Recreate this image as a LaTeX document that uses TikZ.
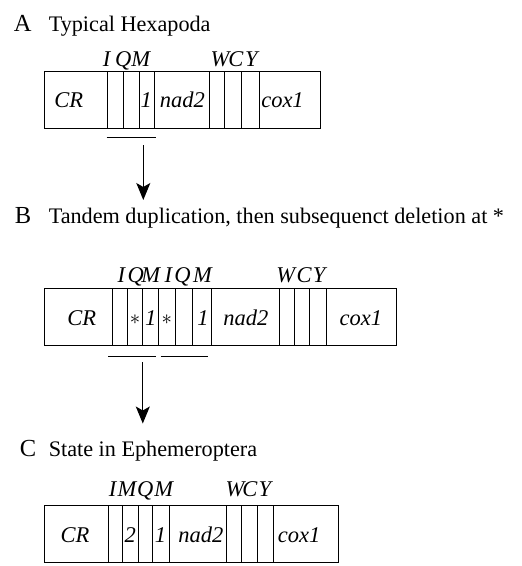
\documentclass[tikz,border=0pt]{standalone}
\usepackage{fontspec}
\setmainfont{Liberation Serif}
\usetikzlibrary{arrows.meta}
\begin{document}
\begin{tikzpicture}[x=1pt,y=-1pt,line width=0.9pt,
  paneltag/.style={anchor=base west,inner sep=0pt,font=\fontsize{24.5}{28}\selectfont},
  heading/.style={anchor=base west,inner sep=0pt,font=\fontsize{22.2}{26}\selectfont},
  trna/.style={anchor=base,inner sep=0pt,font=\itshape\fontsize{22.5}{26}\selectfont},
  gene/.style={anchor=base,inner sep=0pt,font=\itshape\fontsize{22.5}{26}\selectfont},
  star/.style={inner sep=0pt,font=\fontsize{21}{24}\selectfont},
  region/.style={line width=1pt},
  flow/.style={-{Stealth[length=17pt,width=14pt,inset=4pt]},line width=1.1pt}]
\useasboundingbox (0,0) rectangle (522,566);

% ---------- A ----------
\node[paneltag] (tA) at (13.5,31.7) {A};
\node[heading] (hA) at (48.3,31.7) {Typical Hexapoda};
\draw (44,71) rectangle (320.7,128.3);
\foreach \x in {107,123,139,154.3,209,224.3,241.7,259.3}
  \draw (\x,71) -- (\x,128.3);
\node[gene] (crA) at (68.8,107) {CR};
\node[gene] (oneA) at (146.3,107) {1};
\node[gene] (nadA) at (182.3,107) {nad2};
\node[gene] (coxA) at (282.5,107) {cox1};
\node[trna] (iA) at (106.7,66.5) {I};
\node[trna] (qA) at (123.3,66.5) {Q};
\node[trna] (mA) at (140.7,66.5) {M};
\node[trna] (wA) at (220,66.5) {W};
\node[trna] (cA) at (235.8,66.5) {C};
\node[trna] (yA) at (251.5,66.5) {Y};
\coordinate (uA1) at (106.7,137.7);
\coordinate (uA2) at (155.7,137.7);
\draw[region] (uA1) -- (uA2);
\coordinate (arA1) at (143.3,145);
\coordinate (arA2) at (143.3,200);
\draw[flow] (arA1) -- (arA2);

% ---------- B ----------
\node[paneltag] (tB) at (14.5,223) {B};
\node[heading] (hB) at (48.3,223) {Tandem duplication, then subsequenct deletion at *};
\draw (44,288) rectangle (396,345);
\foreach \x in {112.7,127.7,142.5,158.3,175.3,192.7,211.7,279.3,294.3,309.3,326}
  \draw (\x,288) -- (\x,345);
\node[gene] (crB) at (81.7,325) {CR};
\node[star] (sB1) at (135,319.5) {$\ast$};
\node[gene] (oneB1) at (150.8,325) {1};
\node[star] (sB2) at (166.7,319.5) {$\ast$};
\node[gene] (oneB2) at (203,325) {1};
\node[gene] (nadB) at (245.8,325) {nad2};
\node[gene] (coxB) at (360.8,325) {cox1};
\node[trna] (iB1) at (121.3,282.3) {I};
\node[trna] (qB1) at (135.8,282.3) {Q};
\node[trna] (mB1) at (150.8,282.3) {M};
\node[trna] (iB2) at (168.3,282.3) {I};
\node[trna] (qB2) at (182.5,282.3) {Q};
\node[trna] (mB2) at (202.5,282.3) {M};
\node[trna] (wB) at (285.8,282.3) {W};
\node[trna] (cB) at (304.2,282.3) {C};
\node[trna] (yB) at (319.2,282.3) {Y};
\coordinate (uB1) at (108.3,356.7);
\coordinate (uB2) at (156,356.7);
\coordinate (uB3) at (160.7,356.7);
\coordinate (uB4) at (208.3,356.7);
\draw[region] (uB1) -- (uB2);
\draw[region] (uB3) -- (uB4);
\coordinate (arB1) at (142.8,362);
\coordinate (arB2) at (142.8,423.5);
\draw[flow] (arB1) -- (arB2);

% ---------- C ----------
\node[paneltag] (tC) at (19.5,456.7) {C};
\node[heading] (hC) at (48.3,456.7) {State in Ephemeroptera};
\draw (44,505.5) rectangle (338.3,562.5);
\foreach \x in {108.3,122.7,138.3,152.3,169.3,226.7,241,257.5,273.3}
  \draw (\x,505.5) -- (\x,562.5);
\node[gene] (crC) at (75,542.5) {CR};
\node[gene] (twoC) at (130.3,542.5) {2};
\node[gene] (oneC) at (160.5,542.5) {1};
\node[gene] (nadC) at (200.8,542.5) {nad2};
\node[gene] (coxC) at (299.2,542.5) {cox1};
\node[trna] (iC) at (112.5,496.7) {I};
\node[trna] (mC1) at (127,496.7) {M};
\node[trna] (qC) at (145.3,496.7) {Q};
\node[trna] (mC2) at (163.7,496.7) {M};
\node[trna] (wC) at (235,496.7) {W};
\node[trna] (cC) at (250,496.7) {C};
\node[trna] (yC) at (265,496.7) {Y};
\end{tikzpicture}
\end{document}
